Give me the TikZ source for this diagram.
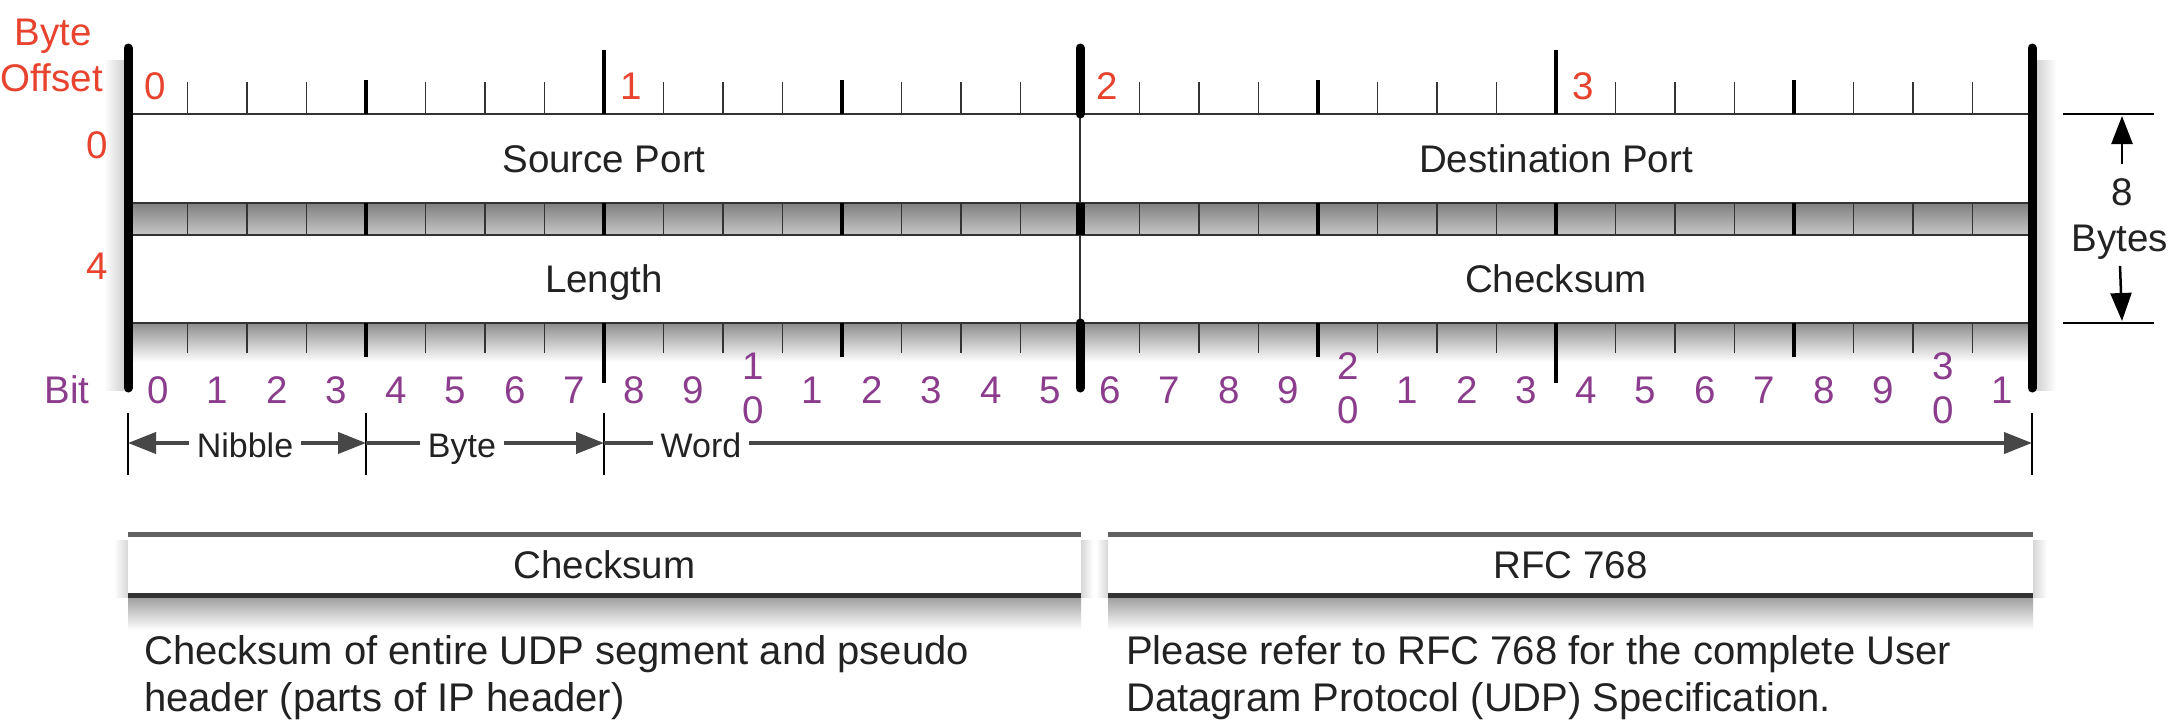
\documentclass[tikz,border=0pt]{standalone}
\usepackage{fontspec}
\setmainfont{Liberation Sans}
\usetikzlibrary{arrows.meta,calc}
\definecolor{offred}{HTML}{E8432E}
\definecolor{bitpurple}{HTML}{8C3C8C}
\definecolor{ink}{HTML}{222222}
\definecolor{edgec}{HTML}{333333}
\begin{document}
\begin{tikzpicture}[x=1pt,y=-1pt,
  txt/.style={inner sep=0pt, font=\fontsize{38.5}{46}\selectfont, text=ink, text height=27.5pt, text depth=0pt},
  desc/.style={inner sep=0pt, font=\fontsize{40}{47}\selectfont, text=ink, text height=28.6pt, text depth=0pt},
  redlbl/.style={txt, text=offred},
  bitlbl/.style={txt, text=bitpurple},
  smalltick/.style={line width=1.8pt, edgec},
  nibtick/.style={line width=3.5pt, black},
  bytetick/.style={line width=4pt, black},
  wordbar/.style={line width=9pt, black, line cap=round},
  thinbar/.style={line width=2pt, edgec},
  rowedge/.style={line width=2.5pt, edgec},
  brk/.style={line width=2pt, black},
  brkline/.style={line width=4pt, black!72},
  tip/.style={-{Triangle[length=28pt,width=21pt]}},
  bothtip/.style={{Triangle[length=28pt,width=21pt]}-{Triangle[length=28pt,width=21pt]}},
  onwhite/.style={inner sep=0pt, font=\fontsize{34}{40}\selectfont, text=ink, text height=24.4pt, text depth=0pt, fill=white, inner xsep=8pt, inner ysep=6pt}
]
\useasboundingbox[fill=white] (0,0) rectangle (2178,726);

% ---------- shadows of the main block ----------
\shade[top color=black!45, bottom color=white] (128,323) rectangle (2032,362);
\shade[left color=white, right color=black!18] (104,60) rectangle (124,390);
\shade[left color=black!18, right color=white] (2036,60) rectangle (2056,390);

% ---------- rows ----------
\fill[white] (128,114) rectangle (2032,203);
\shade[top color=black!50, bottom color=black!22] (128,203) rectangle (2032,235);
\fill[white] (128,235) rectangle (2032,323);
\draw[rowedge] (128,114) -- (2032,114);
\draw[rowedge] (128,203) -- (2032,203);
\draw[rowedge] (128,235) -- (2032,235);
\draw[rowedge] (128,323) -- (2032,323);

% ---------- ticks ----------
\foreach \i in {1,2,3,5,6,7,9,10,11,13,14,15,17,18,19,21,22,23,25,26,27,29,30,31}{
  \pgfmathsetmacro\X{128+\i*59.5}
  \draw[smalltick] (\X,82) -- (\X,114);
  \draw[smalltick] (\X,203) -- (\X,235);
  \draw[smalltick] (\X,323) -- (\X,353);
}
\foreach \i in {4,12,20,28}{
  \pgfmathsetmacro\X{128+\i*59.5}
  \draw[nibtick] (\X,80) -- (\X,114);
  \draw[nibtick] (\X,203) -- (\X,235);
  \draw[nibtick] (\X,323) -- (\X,357);
}
\foreach \i in {8,24}{
  \pgfmathsetmacro\X{128+\i*59.5}
  \draw[bytetick] (\X,50) -- (\X,114);
  \draw[bytetick] (\X,203) -- (\X,235);
  \draw[bytetick] (\X,323) -- (\X,383);
}
% middle word boundary
\draw[thinbar] (1080,114) -- (1080,323);
\draw[wordbar] (1080,48) -- (1080,114);
\draw[line width=9pt, black] (1080,203) -- (1080,235);
\draw[wordbar] (1080,323) -- (1080,388);
% outer bars
\draw[wordbar] (128,48) -- (128,388);
\draw[wordbar] (2032,48) -- (2032,388);

% ---------- field labels ----------
\node[txt] (src) at (604,158.5) {Source Port};
\node[txt] (dst) at (1556,158.5) {Destination Port};
\node[txt] (len) at (604,279) {Length};
\node[txt] (chk) at (1556,279) {Checksum};

% ---------- byte offsets ----------
\node[redlbl] (byteword) at (53,32) {Byte};
\node[redlbl] (offsetword) at (52,78) {Offset};
\node[redlbl] (off0) at (155,86) {0};
\node[redlbl] (off1) at (631,86) {1};
\node[redlbl] (off2) at (1107,86) {2};
\node[redlbl] (off3) at (1583,86) {3};
\node[redlbl] (row0) at (97,145) {0};
\node[redlbl] (row4) at (97,266) {4};

% ---------- bit numbers ----------
\node[bitlbl] (bitword) at (67,390) {Bit};
\foreach \i in {0,...,31}{
  \pgfmathsetmacro\X{128+(\i+0.5)*59.5}
  \pgfmathtruncatemacro\d{mod(\i,10)}
  \pgfmathtruncatemacro\t{\i/10}
  \ifnum\d=0 \ifnum\i>0
      \node[bitlbl] (bit\i a) at (\X,366) {\t};
      \node[bitlbl] (bit\i) at (\X,410) {0};
    \else
      \node[bitlbl] (bit\i) at (\X,390) {\d};
    \fi
  \else
    \node[bitlbl] (bit\i) at (\X,390) {\d};
  \fi
}

% ---------- nibble / byte / word brackets ----------
\coordinate (k0) at (128,443);
\coordinate (k4) at (366,443);
\coordinate (k8) at (604,443);
\coordinate (k32) at (2032,443);
\foreach \c in {k0,k4,k8,k32}{
  \draw[brk] ($(\c)+(0,-30)$) -- ($(\c)+(0,32)$);
}
\draw[brkline, bothtip] (k0) -- (k4);
\draw[brkline, tip] (k4) -- (k8);
\draw[brkline, tip] (k8) -- (k32);
\node[onwhite] (nib) at (245,445) {Nibble};
\node[onwhite] (byt) at (462,445) {Byte};
\node[onwhite] (wrd) at (701,445) {Word};

% ---------- 8 bytes dimension ----------
\draw[line width=2pt, black] (2063,114) -- (2154,114);
\draw[line width=2pt, black] (2063,323) -- (2154,323);
\coordinate (dimtop) at (2122,116);
\coordinate (dimbot) at (2122,321);
\node[txt] (eight) at (2122,192) {8};
\node[txt] (bytes) at (2120,238) {Bytes};
\draw[line width=2.5pt, black, tip] ($(eight.north)+(0,-14)$) -- (dimtop);
\draw[line width=2.5pt, black, tip] ($(bytes.south)+(0,14)$) -- (dimbot);

% ---------- bottom boxes ----------
\shade[top color=black!38, bottom color=white] (128,597) rectangle (1081,630);
\shade[left color=white, right color=black!16] (114,540) rectangle (128,597);
\shade[left color=black!16, right color=white] (1081,540) rectangle (1093,597);
\shade[top color=black!38, bottom color=white] (1108,597) rectangle (2033,630);
\shade[left color=white, right color=black!16] (1096,540) rectangle (1108,597);
\shade[left color=black!16, right color=white] (2033,540) rectangle (2047,597);
\node[txt, fill=white, minimum width=953pt, minimum height=61pt] (cbox) at (604.5,565) {Checksum};
\node[txt, fill=white, minimum width=925pt, minimum height=61pt] (rbox) at (1570.5,565) {RFC 768};
\draw[line width=5pt, black!62] (cbox.north west) -- (cbox.north east);
\draw[line width=5pt, black!80] (cbox.south west) -- (cbox.south east);
\draw[line width=5pt, black!62] (rbox.north west) -- (rbox.north east);
\draw[line width=5pt, black!80] (rbox.south west) -- (rbox.south east);

% ---------- descriptions ----------
\node[desc, anchor=west] (d1a) at (144,650) {Checksum of entire UDP segment and pseudo};
\node[desc, anchor=west] (d1b) at (144,697) {header (parts of IP header)};
\node[desc, anchor=west] (d2a) at (1126,650) {Please refer to RFC 768 for the complete User};
\node[desc, anchor=west] (d2b) at (1126,697) {Datagram Protocol (UDP) Specification.};
\end{tikzpicture}
\end{document}
